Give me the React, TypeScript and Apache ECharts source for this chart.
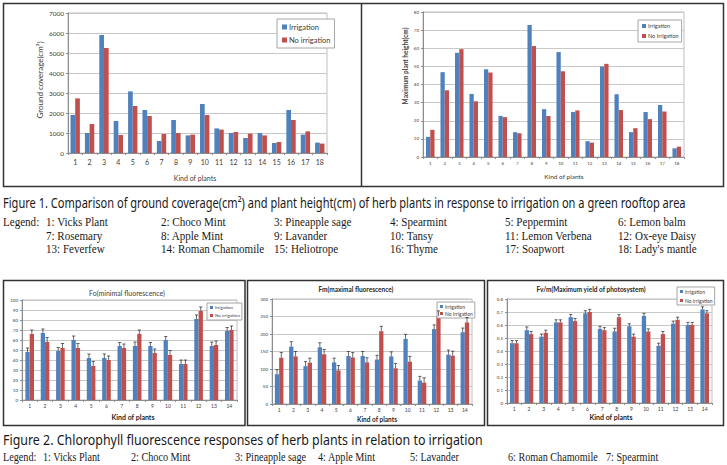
import React, { useEffect, useRef } from "react";
import * as echarts from "echarts";

// ---- categories ----
const plants18 = ["1", "2", "3", "4", "5", "6", "7", "8", "9", "10", "11", "12", "13", "14", "15", "16", "17", "18"];
const plants14 = ["1", "2", "3", "4", "5", "6", "7", "8", "9", "10", "11", "12", "13", "14"];

// ---- Figure 1: ground coverage (cm²) ----
const coverageIrr = [1900, 1000, 5900, 1600, 3080, 2150, 600, 1650, 880, 2450, 1230, 1000, 750, 1000, 500, 2150, 920, 520];
const coverageNo = [2730, 1450, 5250, 900, 2350, 1850, 950, 1000, 920, 1900, 1170, 1050, 970, 880, 550, 1650, 1080, 470];

// ---- Figure 1: maximum plant height (cm) ----
const heightIrr = [11.1, 46.8, 57.5, 34.8, 48.4, 22.7, 13.7, 72.8, 26.4, 57.9, 24.8, 8.7, 49.9, 34.6, 13.7, 24.8, 28.7, 4.8];
const heightNo = [15.0, 36.8, 59.5, 30.7, 46.6, 22.0, 13.1, 61.2, 22.6, 47.3, 25.7, 7.9, 51.4, 25.9, 15.9, 20.9, 25.1, 5.7];

// ---- Figure 2: Fo ----
const foIrr = [48, 67, 49, 60, 42, 42, 54, 54, 54, 60, 36, 81, 54, 69];
const foNo = [66, 58, 52, 52, 34, 40, 52, 66, 47, 45, 36, 89, 55, 70];
const foErrIrr = [4, 4, 3.5, 4, 4, 4, 3.5, 4, 3.5, 3.5, 4, 4, 4, 3.5];
const foErrNo = [4, 4.5, 4.5, 4.5, 4.5, 4, 4, 4, 4, 4.5, 4, 4, 4, 4];

// ---- Figure 2: Fm ----
const fmIrr = [85, 164, 108, 162, 119, 137, 137, 127, 136, 186, 67, 214, 141, 205];
const fmNo = [132, 136, 118, 142, 96, 133, 119, 208, 102, 121, 61, 251, 138, 233];
const fmErrIrr = [13, 14, 13, 13, 12, 13, 13, 12, 13, 13, 12, 12, 13, 12];
const fmErrNo = [15, 14, 13, 14, 14, 14, 13, 14, 14, 15, 14, 15, 13, 14];

// ---- Figure 2: Fv/m ----
const fvIrr = [0.46, 0.56, 0.51, 0.62, 0.66, 0.69, 0.57, 0.55, 0.59, 0.67, 0.44, 0.61, 0.6, 0.72];
const fvNo = [0.46, 0.53, 0.54, 0.62, 0.63, 0.7, 0.56, 0.66, 0.51, 0.55, 0.53, 0.64, 0.6, 0.69];
const fvErrIrr = [0.02, 0.025, 0.02, 0.02, 0.02, 0.02, 0.02, 0.025, 0.02, 0.02, 0.02, 0.02, 0.02, 0.02];
const fvErrNo = [0.02, 0.02, 0.02, 0.02, 0.02, 0.02, 0.02, 0.02, 0.02, 0.02, 0.02, 0.02, 0.02, 0.02];

// ---- captions ----
const caption1 =
  "Figure 1. Comparison of ground coverage(cm²) and plant height(cm) of herb plants in response to irrigation on a green rooftop area";
const legend1Rows = [
  ["1: Vicks Plant", "2: Choco Mint", "3: Pineapple sage", "4: Spearmint", "5: Peppermint", "6: Lemon balm"],
  ["7: Rosemary", "8: Apple Mint", "9: Lavander", "10: Tansy", "11: Lemon Verbena", "12: Ox-eye Daisy"],
  ["13: Feverfew", "14: Roman Chamomile", "15: Heliotrope", "16: Thyme", "17: Soapwort", "18: Lady's mantle"],
];
const caption2 = "Figure 2. Chlorophyll fluorescence responses of herb plants in relation to irrigation";
const legend2Row = ["1: Vicks Plant", "2: Choco Mint", "3: Pineapple sage", "4: Apple Mint", "5: Lavander", "6: Roman Chamomile", "7: Spearmint"];

const BLUE = "#4F81BD";
const RED = "#C0504D";
const FONT = "Lato, 'Open Sans', sans-serif";
const CAP_FONT = "14px 'Noto Sans'";
const SERIF_FONT = "13px 'Liberation Serif'";

function measure(text: string, font: string): number {
  const ctx = document.createElement("canvas").getContext("2d");
  if (!ctx) return text.length * 6;
  ctx.font = font;
  return ctx.measureText(text).width;
}

function txt(text: string, x: number, y: number, font: string, o: any = {}) {
  const align = o.align || "center";
  return {
    type: "text",
    x,
    y,
    rotation: o.rotation || 0,
    scaleX: o.scaleX || 1,
    silent: true,
    z: 10,
    style: {
      text,
      font,
      fill: o.fill || "#333",
      textAlign: align,
      textVerticalAlign: "middle",
      align,
      verticalAlign: "middle",
    },
  };
}

function xAxisCfg(gi: number, data: string[], fontSize: number, margin: number) {
  return {
    type: "category",
    gridIndex: gi,
    data,
    axisLine: { lineStyle: { color: "#8c8c8c", width: 1 } },
    axisTick: { show: true, length: 2, lineStyle: { color: "#8c8c8c" } },
    axisLabel: { fontSize, color: "#404040", margin, fontFamily: FONT },
  };
}

function yAxisCfg(gi: number, max: number, interval: number, fontSize: number, fmt: (v: number) => string) {
  return {
    type: "value",
    gridIndex: gi,
    min: 0,
    max,
    interval,
    axisLine: { show: true, lineStyle: { color: "#8c8c8c", width: 1 } },
    axisTick: { show: true, length: 2, lineStyle: { color: "#8c8c8c" } },
    splitLine: { lineStyle: { color: "#c8c8c8", width: 1 } },
    axisLabel: { fontSize, color: "#404040", margin: 4, fontFamily: FONT, formatter: fmt },
  };
}

const plain = (v: number) => String(v);
const oneDecimal = (v: number) => (v === 0 ? "0" : v.toFixed(1));

function bars(gi: number, name: string, data: number[], color: string, gap: string) {
  return {
    type: "bar",
    name,
    xAxisIndex: gi,
    yAxisIndex: gi,
    data,
    barGap: "0%",
    barCategoryGap: gap,
    itemStyle: { color },
    z: 2,
  };
}

// plus-direction error bars centred over each bar of a two-bar group
function errBars(gi: number, values: number[], errs: number[], side: number, gapFrac: number) {
  return {
    type: "custom",
    xAxisIndex: gi,
    yAxisIndex: gi,
    silent: true,
    z: 4,
    data: values.map((v, i) => [i, v, v + errs[i]]),
    renderItem: (_p: any, api: any) => {
      const base = api.coord([api.value(0), api.value(1)]);
      const top = api.coord([api.value(0), api.value(2)]);
      const band = api.size([1, 0])[0];
      const cx = base[0] + (side * band * (1 - gapFrac)) / 4;
      const cap = 1.6;
      const st = { stroke: "#262626", lineWidth: 0.7 };
      return {
        type: "group",
        children: [
          { type: "line", shape: { x1: cx, y1: base[1], x2: cx, y2: top[1] }, style: st },
          { type: "line", shape: { x1: cx - cap, y1: top[1], x2: cx + cap, y2: top[1] }, style: st },
        ],
      };
    },
  };
}

function legendBox(left: number, top: number, names: string[], fontSize: number, gap: number, icon: number, pad: number[]) {
  return {
    left,
    top,
    orient: "vertical",
    data: names,
    icon: "rect",
    itemWidth: icon,
    itemHeight: icon,
    itemGap: gap,
    padding: pad,
    borderColor: "#a6a6a6",
    borderWidth: 1,
    borderRadius: 0,
    backgroundColor: "#fff",
    selectedMode: false,
    textStyle: { fontSize, color: "#404040", fontFamily: FONT, padding: [0, 0, 0, -3] },
  };
}

export default function App() {
  const ref = useRef<HTMLDivElement>(null);

  useEffect(() => {
    if (!ref.current) return;
    const chart = echarts.init(ref.current, undefined, { renderer: "svg" });

    const capScale1 = 683 / measure(caption1, CAP_FONT);
    const capScale2 = 480 / measure(caption2, CAP_FONT);
    const serifScale = 62 / measure("1: Vicks Plant", SERIF_FONT);
    const serifScale2 = serifScale * 0.92;

    const legendCols = [46, 161, 274, 390, 505, 618];
    const legendRowsY = [222, 236, 249];
    const legend2X = [43, 131, 235, 318, 410, 508, 606];

    const graphics: any[] = [
      // panel frames
      { type: "rect", shape: { x: 3.5, y: 3.5, width: 720, height: 183 }, style: { fill: "none", stroke: "#333", lineWidth: 1.5 }, z: 20 },
      { type: "line", shape: { x1: 361.5, y1: 3.5, x2: 361.5, y2: 186.5 }, style: { stroke: "#333", lineWidth: 1.5 }, z: 20 },
      { type: "rect", shape: { x: 3.5, y: 280.5, width: 241.5, height: 145 }, style: { fill: "none", stroke: "#333", lineWidth: 1.5 }, z: 20 },
      { type: "rect", shape: { x: 247.5, y: 280.5, width: 237, height: 145 }, style: { fill: "none", stroke: "#333", lineWidth: 1.5 }, z: 20 },
      { type: "rect", shape: { x: 487.5, y: 280.5, width: 236, height: 145 }, style: { fill: "none", stroke: "#333", lineWidth: 1.5 }, z: 20 },

      // axis titles, Figure 1
      txt("Ground coverage(cm²)", 40, 80, `8px ${FONT}`, { rotation: Math.PI / 2, fill: "#404040" }),
      txt("Kind of plants", 195, 178, `7px ${FONT}`, { fill: "#404040" }),
      txt("Maximum plant height(cm)", 405, 66, `bold 6.5px ${FONT}`, { rotation: Math.PI / 2, fill: "#404040" }),
      txt("Kind of plants", 564, 176, `6.5px ${FONT}`, { fill: "#404040" }),

      // titles and axis titles, Figure 2
      txt("Fo(minimal fluorescence)", 127, 293, `7px ${FONT}`, { fill: "#404040" }),
      txt("Kind of plants", 133, 417, `bold 7px ${FONT}`, { fill: "#262626" }),
      txt("Fm(maximal fluorescence)", 356, 289, `bold 6.5px ${FONT}`, { fill: "#262626" }),
      txt("Kind of plants", 377, 419, `bold 6.5px ${FONT}`, { fill: "#262626" }),
      txt("Fv/m(Maximum yield of photosystem)", 591, 289, `bold 6.5px ${FONT}`, { fill: "#262626" }),
      txt("Kind of plants", 611, 417, `bold 7px ${FONT}`, { fill: "#262626" }),

      // captions
      txt(caption1, 3, 203, CAP_FONT, { align: "left", scaleX: capScale1, fill: "#1a1a1a" }),
      txt("Legend:", 3, 222, SERIF_FONT, { align: "left", scaleX: serifScale, fill: "#1a1a1a" }),
      txt(caption2, 3, 440, CAP_FONT, { align: "left", scaleX: capScale2, fill: "#1a1a1a" }),
      txt("Legend:", 3, 457, SERIF_FONT, { align: "left", scaleX: serifScale2, fill: "#1a1a1a" }),
    ];
    legend1Rows.forEach((row, r) =>
      row.forEach((s, c) =>
        graphics.push(txt(s, legendCols[c], legendRowsY[r], SERIF_FONT, { align: "left", scaleX: serifScale, fill: "#1a1a1a" }))
      )
    );
    legend2Row.forEach((s, c) =>
      graphics.push(txt(s, legend2X[c], 457, SERIF_FONT, { align: "left", scaleX: serifScale2, fill: "#1a1a1a" }))
    );

    const gridStyle = { show: true, borderColor: "#bfbfbf", borderWidth: 1, backgroundColor: "#fff", containLabel: false };

    chart.setOption({
      animation: false,
      backgroundColor: "#fff",
      textStyle: { fontFamily: FONT },
      grid: [
        { ...gridStyle, left: 68, top: 13, width: 259, height: 140 },
        { ...gridStyle, left: 423, top: 12, width: 261, height: 145 },
        { ...gridStyle, left: 22, top: 300, width: 215, height: 100 },
        { ...gridStyle, left: 272, top: 299, width: 200, height: 105 },
        { ...gridStyle, left: 507, top: 299, width: 205, height: 104 },
      ],
      xAxis: [
        xAxisCfg(0, plants18, 7, 5),
        xAxisCfg(1, plants18, 4.5, 4),
        xAxisCfg(2, plants14, 5, 3),
        xAxisCfg(3, plants14, 5, 3),
        xAxisCfg(4, plants14, 5, 3),
      ],
      yAxis: [
        yAxisCfg(0, 7000, 1000, 6.5, plain),
        yAxisCfg(1, 80, 10, 4.5, plain),
        yAxisCfg(2, 100, 10, 4.5, plain),
        yAxisCfg(3, 300, 50, 4.5, plain),
        yAxisCfg(4, 0.8, 0.1, 4.5, oneDecimal),
      ],
      legend: [
        legendBox(277, 19, ["Irrigation", "No irrigation"], 7.5, 5, 5, [4, 4, 4, 5]),
        legendBox(638, 20, ["Irrigation", "No Irrigation"], 5.5, 4, 4, [3, 3, 3, 4]),
        legendBox(207, 303, ["Irrigation", "No irrigation"], 4.5, 3, 3, [2, 2, 2, 3]),
        legendBox(437, 302, ["Irrigation", "No Irrigation"], 5, 2, 3, [2, 2, 2, 3]),
        legendBox(677, 287, ["Irrigation", "No irrigation"], 5, 4, 3, [2, 2, 2, 3]),
      ],
      graphic: { elements: graphics },
      series: [
        bars(0, "Irrigation", coverageIrr, BLUE, "35%"),
        bars(0, "No irrigation", coverageNo, RED, "35%"),

        bars(1, "Irrigation", heightIrr, BLUE, "41%"),
        bars(1, "No Irrigation", heightNo, RED, "41%"),

        bars(2, "Irrigation", foIrr, BLUE, "44%"),
        bars(2, "No irrigation", foNo, RED, "44%"),
        errBars(2, foIrr, foErrIrr, -1, 0.44),
        errBars(2, foNo, foErrNo, 1, 0.44),

        bars(3, "Irrigation", fmIrr, BLUE, "40%"),
        bars(3, "No Irrigation", fmNo, RED, "40%"),
        errBars(3, fmIrr, fmErrIrr, -1, 0.4),
        errBars(3, fmNo, fmErrNo, 1, 0.4),

        bars(4, "Irrigation", fvIrr, BLUE, "41%"),
        bars(4, "No irrigation", fvNo, RED, "41%"),
        errBars(4, fvIrr, fvErrIrr, -1, 0.41),
        errBars(4, fvNo, fvErrNo, 1, 0.41),
      ],
    });

    return () => chart.dispose();
  }, []);

  return (
    <div
      ref={ref}
      style={{ position: "absolute", left: 0, top: 0, width: 727, height: 465, background: "#fff" }}
    />
  );
}
